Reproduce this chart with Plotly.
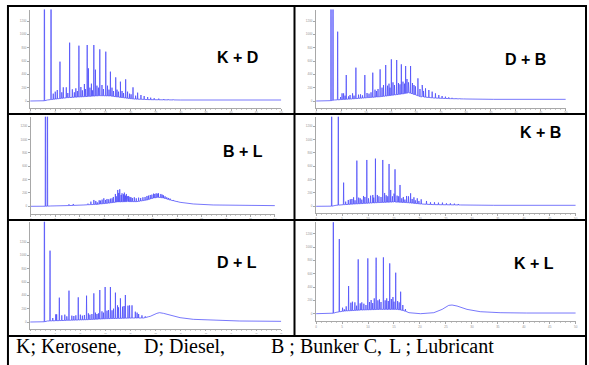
import numpy as np
import plotly.graph_objects as go

# ---------------- data (retention time in min, intensity in pA-like units) ----------------
panel_names = ["K + D", "D + B", "B + L", "K + B", "D + L", "K + L"]

# K + D
kd_peak_t = [2.84, 4.16, 5.94, 7.86, 9.71, 11.36, 12.68, 13.87, 15.06, 15.98, 17.04, 17.97, 19.02,
             20.48, 21.4, 22.06, 22.7, 23.4, 24.0, 24.7, 25.6, 26.6, 27.5, 28.5]
kd_peak_h = [4000, 4000, 590, 875, 830, 840, 840, 775, 740, 440, 355, 290, 325,
             205, 125, 90, 75, 60, 50, 42, 36, 30, 26, 22]
kd_minor_t = [4.6, 5.0, 5.4, 6.3, 6.6, 7.2, 7.5, 8.4, 8.8, 9.1, 9.4, 10.1, 10.4, 10.8, 11.0, 11.6, 11.9,
              12.2, 12.4, 13.0, 13.3, 13.6, 14.3, 14.6, 15.4, 15.7, 16.3, 16.6, 17.3, 17.6, 18.3, 18.6,
              19.4, 19.8, 20.1, 21.0]
kd_minor_h = [110, 140, 165, 130, 205, 205, 120, 175, 130, 190, 150, 210, 160, 255, 180, 490, 200,
              260, 160, 470, 230, 200, 240, 180, 230, 170, 200, 150, 170, 140, 150, 120,
              140, 110, 100, 80]
kd_hump_t = [0, 2.64, 3.43, 7.40, 10.70, 14.0, 16.0, 17.97, 20.6, 23.9, 29.9, 50]
kd_hump_y = [0, 0, 15, 50, 65, 80, 75, 55, 30, 20, 15, 15]

# D + B
db_peak_t = [2.99, 3.39, 4.32, 5.51, 6.04, 7.30, 7.97, 9.76, 11.35, 12.82, 13.94, 15.07, 16.14, 17.07,
             17.93, 18.92, 20.39, 21.25, 21.91, 22.58, 23.24, 23.90, 24.57, 25.23, 25.90, 26.56, 27.22,
             28.02, 28.75, 29.55, 30.54]
db_peak_h = [4000, 4000, 1040, 115, 390, 115, 500, 390, 425, 475, 540, 625, 615, 550,
             525, 525, 340, 240, 190, 165, 140, 115, 90, 75, 65, 55, 48,
             42, 38, 33, 30]
db_minor_t = [4.9, 5.2, 5.8, 6.5, 6.8, 7.6, 8.5, 8.9, 9.3, 10.2, 10.6, 11.0, 11.8, 12.1, 12.4, 13.2,
              13.5, 14.3, 14.6, 14.8, 15.4, 15.7, 16.5, 16.8, 17.4, 17.7, 18.2, 18.5, 19.3, 19.6, 19.9,
              20.8, 21.5]
db_minor_h = [60, 115, 80, 70, 90, 80, 95, 100, 85, 120, 110, 130, 170, 150, 180, 200,
              240, 230, 260, 200, 280, 240, 270, 250, 290, 260, 330, 280, 270, 240, 220,
              180, 150]
db_hump_t = [0, 2.66, 3.65, 6.97, 10.29, 12.95, 15.6, 17.6, 18.6, 19.6, 20.9, 23.6, 26.9, 30.2, 35.5, 50]
db_hump_y = [0, 0, 15, 30, 50, 65, 90, 110, 125, 100, 65, 45, 35, 30, 25, 25]

# B + L
bl_peak_t = [2.99, 3.40, 7.81, 8.70, 11.41, 12.91, 14.27, 14.95, 15.96, 16.64, 17.32, 17.80, 18.21,
             18.68, 19.16, 19.57, 20.04, 20.52, 21.20, 22.08, 22.96, 23.78, 24.46, 25.14, 25.68,
             26.15, 26.63, 27.17, 27.85, 28.53, 29.21, 29.89]
bl_peak_h = [4000, 4000, 30, 35, 30, 95, 85, 120, 105, 120, 185, 245, 255,
             195, 205, 185, 155, 135, 135, 130, 135, 155, 170, 190, 195,
             195, 185, 165, 135, 115, 95, 80]
bl_minor_t = [11.7, 12.3, 13.3, 13.6, 14.0, 14.6, 15.3, 15.6, 16.3, 16.9, 17.5, 18.0, 18.5, 19.0,
              19.4, 19.8, 20.3, 20.8, 21.6, 22.5, 23.4, 24.1, 24.8, 25.4, 26.0, 26.9, 27.5, 28.2]
bl_minor_h = [40, 70, 80, 60, 90, 100, 95, 110, 115, 140, 150, 200, 170, 180,
              160, 150, 140, 125, 120, 125, 140, 160, 175, 185, 190, 175, 150, 125]
bl_hump_t = [0, 2.72, 4.08, 7.47, 10.87, 13.59, 15.63, 17.66, 19.70, 21.74, 23.78, 25.14, 26.15,
             27.17, 28.53, 30.57, 33.29, 37.36, 42.80, 50]
bl_hump_y = [0, 0, 5, 10, 20, 30, 45, 65, 70, 70, 95, 125, 135, 125, 95, 60, 35, 20, 15, 10]

# K + B
kb_peak_t = [3.00, 4.28, 5.30, 6.58, 7.22, 7.85, 8.49, 9.13, 9.77, 10.92, 11.43, 12.84, 14.05, 14.37,
             15.20, 16.16, 17.43, 18.20, 18.84, 19.48, 20.24, 21.26, 22.03, 22.80, 23.56, 24.33,
             25.10, 25.86, 26.63, 27.39, 28.16, 28.93]
kb_peak_h = [4000, 4000, 355, 105, 135, 685, 120, 155, 695, 170, 715, 695, 635, 245,
             555, 320, 155, 195, 135, 120, 105, 80, 60, 60, 55, 55,
             45, 45, 40, 35, 30, 28]
kb_minor_t = [5.7, 6.2, 6.9, 7.5, 8.2, 8.8, 9.4, 10.1, 10.5, 11.1, 11.8, 12.1, 12.5, 13.2, 13.5, 13.8,
              14.7, 15.0, 15.6, 15.9, 16.5, 16.8, 17.1, 17.8, 18.5, 19.1, 19.8]
kb_minor_h = [70, 95, 110, 90, 130, 100, 140, 120, 160, 130, 170, 150, 140, 200, 165, 150,
              150, 190, 160, 150, 120, 140, 100, 150, 110, 90, 80]
kb_hump_t = [0, 2.87, 3.83, 5.43, 8.62, 11.81, 15.0, 17.56, 20.11, 22.67, 27.78, 34.16, 50]
kb_hump_y = [0, 0, 15, 25, 40, 55, 65, 55, 35, 25, 20, 15, 15]

# D + L
dl_peak_t = [2.84, 3.96, 5.28, 5.81, 7.73, 9.58, 11.23, 12.68, 13.87, 14.93, 15.98, 16.98, 17.97,
             18.96, 19.48, 20.28, 20.94, 21.60, 22.26, 22.92, 23.58]
dl_peak_h = [4000, 1070, 115, 365, 470, 370, 395, 430, 480, 525, 525, 440, 355,
             405, 245, 250, 155, 120, 100, 85, 80]
dl_minor_t = [4.5, 5.1, 6.3, 6.9, 7.3, 8.3, 8.7, 9.1, 10.0, 10.4, 10.8, 11.6, 11.9, 12.3, 13.0, 13.3,
              13.6, 14.3, 14.6, 15.3, 15.6, 16.3, 16.6, 17.4, 17.6, 18.4, 18.7, 19.8, 21.3]
dl_minor_h = [60, 115, 100, 110, 85, 95, 90, 100, 110, 95, 105, 130, 110, 120, 140, 120,
              130, 160, 140, 170, 180, 175, 200, 250, 220, 230, 240, 250, 140]
dl_hump_t = [0, 2.64, 3.43, 7.40, 11.36, 15.32, 17.97, 20.61, 22.59, 23.91, 25.23, 25.76, 26.55,
             27.87, 29.85, 32.50, 36.46, 41.74, 50]
dl_hump_y = [0, 0, 15, 25, 35, 50, 55, 60, 60, 85, 130, 140, 130, 100, 65, 40, 25, 15, 10]

# K + L
kl_peak_t = [3.32, 4.47, 5.43, 6.26, 7.47, 8.11, 9.96, 11.56, 12.96, 14.18, 15.33, 16.28]
kl_peak_h = [4000, 1120, 65, 415, 170, 815, 830, 840, 845, 755, 615, 330]
kl_minor_t = [5.1, 5.8, 6.7, 7.0, 7.8, 8.5, 8.8, 9.2, 9.6, 10.3, 10.6, 10.9, 11.2, 11.9, 12.2, 12.5,
              13.3, 13.6, 13.9, 14.5, 14.8, 15.0, 15.7, 16.0, 16.7, 17.2]
kl_minor_h = [90, 110, 165, 180, 120, 155, 170, 150, 130, 175, 205, 160, 230, 200, 215, 175,
              200, 230, 190, 220, 250, 180, 190, 170, 130, 70]
kl_hump_t = [0, 3.0, 3.83, 5.43, 8.62, 12.45, 15.65, 16.92, 17.88, 20.11, 22.67, 24.27, 25.54,
             26.18, 27.14, 29.06, 31.61, 35.44, 40.55, 50]
kl_hump_y = [0, 0, 20, 40, 55, 65, 65, 45, 15, 0, 15, 65, 125, 130, 115, 65, 30, 15, 10, 10]

x_ticks = [0, 5, 10, 15, 20, 25, 30, 35, 40, 45, 50]
y_ticks = [0, 200, 400, 600, 800, 1000, 1200]

legend_items = ["K; Kerosene,", "D; Diesel,", "B ; Bunker C,", "L ; Lubricant"]

panels = [
    (kd_peak_t + kd_minor_t, kd_peak_h + kd_minor_h, kd_hump_t, kd_hump_y),
    (db_peak_t + db_minor_t, db_peak_h + db_minor_h, db_hump_t, db_hump_y),
    (bl_peak_t + bl_minor_t, bl_peak_h + bl_minor_h, bl_hump_t, bl_hump_y),
    (kb_peak_t + kb_minor_t, kb_peak_h + kb_minor_h, kb_hump_t, kb_hump_y),
    (dl_peak_t + dl_minor_t, dl_peak_h + dl_minor_h, dl_hump_t, dl_hump_y),
    (kl_peak_t + kl_minor_t, kl_peak_h + kl_minor_h, kl_hump_t, kl_hump_y),
]

# ---------------- layout geometry (pixels) ----------------
W, H = 589, 365
UNITS_PER_PX = 15.0
# (x0, x1, top, x-axis line, zero baseline)
boxes = [
    (29.3, 281.7, 9.5, 107.7, 101.0),
    (316.7, 567.7, 9.5, 107.7, 101.0),
    (30.0, 275.3, 116.7, 214.0, 206.3),
    (316.7, 577.7, 116.7, 213.3, 206.3),
    (29.3, 281.7, 221.7, 329.3, 322.0),
    (316.7, 577.7, 222.3, 321.0, 313.7),
]
label_pos = [(238, 57), (527, 59), (243, 151), (542, 133), (237, 262), (536, 263)]
legend_x = [14, 143, 270, 389]


def build_trace(peak_t, peak_h, hump_t, hump_y, w=0.05):
    pts = list(zip(hump_t, hump_y))
    for t, top in zip(peak_t, peak_h):
        b = float(np.interp(t, hump_t, hump_y))
        pts += [(t - w, b), (t, top), (t + w, b)]
    pts.sort(key=lambda p: p[0])
    xs, ys = zip(*pts)
    return list(xs), list(ys)


fig = go.Figure()
layout_axes = {}
for i, ((pt, ph, ht, hy), (x0, x1, top, axl, base)) in enumerate(zip(panels, boxes)):
    n = i + 1
    xs, ys = build_trace(pt, ph, ht, hy)
    xa = "x" if n == 1 else f"x{n}"
    ya = "y" if n == 1 else f"y{n}"
    fig.add_trace(go.Scatter(x=xs, y=ys, mode="lines", xaxis=xa, yaxis=ya,
                             line=dict(color="rgb(75,75,250)", width=0.75),
                             hoverinfo="skip", showlegend=False))
    ymax = (base - top) * UNITS_PER_PX
    ymin = -(axl - base) * UNITS_PER_PX
    axis_common = dict(showgrid=False, zeroline=False, showline=True, linecolor="#a8a8a8",
                       linewidth=1, tickcolor="#a8a8a8",
                       tickfont=dict(size=3, color="#909090", family="Liberation Sans"))
    bottom_row = n == 5
    layout_axes["xaxis" if n == 1 else f"xaxis{n}"] = dict(
        axis_common, domain=[x0 / W, x1 / W], range=[0, 50], tickvals=x_ticks,
        ticks="outside", ticklen=1 if bottom_row else 2,
        tickfont=dict(size=2 if bottom_row else 3, color="#909090", family="Liberation Sans"),
        anchor=ya, minor=dict(ticks="outside", ticklen=1, dtick=1, tickcolor="#c8c8c8"))
    layout_axes["yaxis" if n == 1 else f"yaxis{n}"] = dict(
        axis_common, domain=[1 - axl / H, 1 - top / H], range=[ymin, ymax], tickvals=y_ticks,
        ticks="outside", ticklen=2, anchor=xa)

annotations = []
for name, (cx, cy) in zip(panel_names, label_pos):
    annotations.append(dict(text=f"<b>{name}</b>", x=cx / W, y=1 - cy / H, xref="paper", yref="paper",
                            xanchor="center", yanchor="middle", showarrow=False,
                            font=dict(family="Liberation Sans", size=16, color="black")))
for txt, lx in zip(legend_items, legend_x):
    annotations.append(dict(text=txt, x=lx / W, y=1 - 346 / H, xref="paper", yref="paper",
                            xanchor="left", yanchor="middle", showarrow=False, borderpad=0,
                            font=dict(family="Liberation Serif", size=20, color="black")))

shapes = []
def hline(y, xa=7, xb=588):
    shapes.append(dict(type="line", xref="paper", yref="paper", x0=xa / W, x1=xb / W,
                       y0=1 - y / H, y1=1 - y / H, line=dict(color="black", width=2)))
def vline(x, ya, yb):
    shapes.append(dict(type="line", xref="paper", yref="paper", x0=x / W, x1=x / W,
                       y0=1 - ya / H, y1=1 - yb / H, line=dict(color="black", width=2)))
for yy in [6, 114, 220, 336]:
    hline(yy)
vline(7, 5, 365)
vline(588, 5, 365)
vline(295, 5, 336)

fig.update_layout(width=W, height=H, autosize=False, margin=dict(l=0, r=0, t=0, b=0),
                  paper_bgcolor="white", plot_bgcolor="white", showlegend=False,
                  annotations=annotations, shapes=shapes, **layout_axes)

fig.write_html("out.html", config={"displayModeBar": False},
               post_script="document.body.style.margin='0';document.body.style.overflow='hidden';")
